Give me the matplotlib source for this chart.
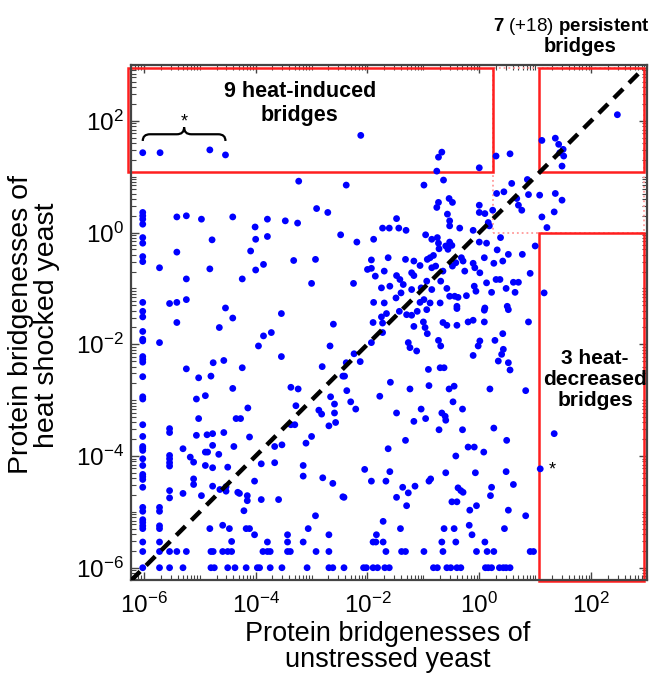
import numpy as np
import matplotlib
matplotlib.use('Agg')
import matplotlib.pyplot as plt
from matplotlib.patches import Rectangle, PathPatch
from matplotlib.path import Path
from matplotlib.ticker import FixedLocator, LogLocator, FuncFormatter, NullFormatter

plt.rcParams['font.family'] = ['Liberation Sans', 'DejaVu Sans']
plt.rcParams['mathtext.fontset'] = 'custom'
plt.rcParams['mathtext.rm'] = 'Liberation Sans'
plt.rcParams['mathtext.bf'] = 'Liberation Sans:bold'
plt.rcParams['mathtext.default'] = 'regular'

# log10(bridgeness) pairs: (unstressed, heat shocked)
heat_induced = [(-6.02, 1.43), (-5.71, 1.43), (-4.82, 1.48), (-4.54, 1.39), (-2.12, 1.74),
                (-0.67, 1.44), (-0.73, 1.35), (-0.76, 1.10), (0.00, 1.16)]
persistent = [(2.47, 2.11), (1.12, 1.65), (1.36, 1.69), (1.42, 1.58), (1.50, 1.49),
              (1.44, 1.43), (1.51, 1.37), (1.48, 1.19)]
heat_decreased = [(1.16, -1.08), (1.34, -3.60), (1.09, -4.23)]

upper_pts = [(0.30, 1.37), (0.55, 1.41), (1.48, 0.58),
    (-3.23, 0.92), (-6.02, 0.36), (-6.02, 0.30), (-6.02, 0.24), (-6.02, 0.15), (-6.02, -0.09),
    (-6.02, -0.19), (-6.02, -0.43), (-6.02, -0.52), (-5.41, 0.28), (-5.24, 0.30), (-4.97, 0.24),
    (-4.41, 0.28), (-4.01, 0.10), (-3.79, 0.24), (-3.47, 0.21), (-3.25, 0.17), (-2.91, 0.43),
    (-2.71, 0.36), (-2.48, -0.04), (-4.00, -0.12), (-3.79, -0.07), (-4.78, -0.13), (-5.41, -0.35),
    (-4.09, -0.33), (-5.72, -0.63), (-4.82, -0.65), (-4.00, -0.67), (-3.86, -0.57), (-3.32, -0.50),
    (-2.93, -0.48), (-5.24, -0.83), (-4.24, -0.83), (-3.00, -0.91), (-6.02, -1.25), (-5.54, -1.27),
    (-5.41, -1.25), (-5.24, -1.20), (-4.54, -1.35)]

center_pts = [(-2.38, 0.85), (-0.99, 0.85), (-0.64, 0.94), (0.31, 0.70), (0.44, 0.73), (0.58, 0.88),
    (0.86, 0.95), (0.88, 0.68), (1.08, 0.67), (1.36, 0.70), (0.67, 0.61), (0.70, 0.49), (0.76, 0.40),
    (1.34, 0.37), (1.12, 0.28), (1.21, 0.09), (-0.73, 0.54), (-0.76, 0.45), (-0.54, 0.61),
    (-0.48, 0.54), (-0.57, 0.33), (0.00, 0.49), (0.00, 0.36), (0.10, 0.34), (0.16, 0.18), (0.18, 0.12),
    (0.24, 0.40), (-0.53, 0.21), (-0.53, 0.12), (-0.35, 0.08), (-0.11, 0.04), (-1.48, 0.25),
    (-1.73, 0.08), (-1.61, 0.08), (-1.44, 0.08), (-1.31, 0.04), (-2.19, -0.17), (-1.89, -0.12),
    (-0.96, -0.04), (-0.85, -0.12), (-0.75, -0.09), (-0.73, -0.19), (-0.72, -0.29), (-0.60, -0.24),
    (-0.53, -0.17), (-0.49, -0.23), (-0.56, -0.30), (0.00, -0.17), (0.13, -0.19), (0.38, -0.09),
    (0.32, -0.31), (0.52, -0.39), (0.77, -0.39), (1.00, -0.24), (-1.63, -0.45), (-1.93, -0.49),
    (-1.32, -0.48), (-1.17, -0.51), (-1.06, -0.59), (-0.93, -0.48), (-0.88, -0.45), (-0.82, -0.41),
    (-0.85, -0.63), (-0.78, -0.60), (-2.00, -0.66), (-1.93, -0.64), (-1.70, -0.69), (-1.86, -0.78),
    (-1.48, -0.77), (-1.42, -0.84), (-1.21, -0.72), (-1.17, -0.77), (-0.65, -0.69), (-0.69, -0.87),
    (-0.48, -0.60), (-0.42, -0.54), (-0.32, -0.45), (-0.29, -0.51), (-0.26, -0.69), (-0.11, -0.55),
    (-0.08, -0.63), (0.01, -0.72), (0.09, -0.45), (0.26, -0.55), (0.42, -0.51), (0.13, -0.90),
    (0.30, -0.84), (0.37, -0.84), (0.61, -0.89), (0.70, -0.89), (0.91, -0.73), (-1.75, -0.99),
    (-1.60, -0.96), (-1.49, -1.17), (-1.40, -1.08), (-1.36, -0.93), (-1.21, -1.02), (-1.04, -0.99),
    (-0.94, -0.87), (-0.85, -1.02), (-0.58, -1.00), (-0.53, -1.14), (-0.44, -1.14), (-0.38, -1.16),
    (-0.23, -1.13), (-0.09, -0.96), (-0.06, -1.05), (0.22, -1.07), (0.48, -1.00), (0.64, -1.07),
    (-2.25, -0.91), (-1.89, -1.25), (-1.70, -1.26), (-1.06, -1.25), (-0.99, -1.20), (-0.88, -1.26),
    (-0.70, -1.26), (-0.40, -1.32), (0.10, -1.35), (0.50, -1.32)]

middle_pts = [(-6.02, -1.41), (-6.02, -1.51), (-6.02, -1.77), (-6.02, -1.91), (-6.02, -1.94),
    (-6.02, -2.22), (-6.02, -2.27), (-6.02, -2.32), (-6.02, -2.58), (-6.02, -2.94), (-6.02, -2.98),
    (-6.02, -3.44), (-6.02, -3.65), (-5.72, -1.97), (-5.41, -1.61), (-4.41, -1.53), (-4.65, -1.70),
    (-3.54, -1.45), (-2.61, -1.64), (-3.86, -1.85), (-3.72, -1.79), (-3.95, -2.03), (-2.67, -2.03),
    (-3.54, -2.22), (-4.57, -2.29), (-4.76, -2.33), (-5.24, -2.44), (-4.24, -2.42), (-5.02, -2.60),
    (-4.80, -2.57), (-2.81, -2.40), (-2.44, -2.57), (-4.41, -2.79), (-3.37, -2.77), (-3.24, -2.80),
    (-5.06, -2.98), (-4.90, -2.92), (-2.66, -2.94), (-2.59, -3.07), (-3.28, -3.10), (-4.14, -3.14),
    (-2.87, -3.18), (-2.82, -3.25), (-2.59, -3.23), (-4.35, -3.33), (-4.27, -3.33), (-5.02, -3.33),
    (-3.37, -3.44), (-3.30, -3.44), (-2.69, -3.46), (-2.57, -3.40), (-5.54, -3.51), (-5.54, -3.58),
    (-5.06, -3.63), (-4.87, -3.62), (-4.77, -3.60), (-4.57, -3.58), (-4.11, -3.66), (-3.00, -3.65),
    (-1.90, -1.61), (-1.73, -1.62), (-1.75, -1.51), (-1.66, -1.45), (-1.73, -1.79), (-1.93, -1.97),
    (-1.43, -1.41), (-1.30, -1.47), (-1.21, -1.48), (-1.11, -1.41), (-1.17, -1.68), (-1.00, -1.60),
    (-0.97, -1.70), (-0.93, -1.81), (-0.94, -1.38), (-0.65, -1.61), (-0.58, -1.66), (-0.40, -1.66),
    (-0.40, -1.36), (-0.20, -1.60), (-0.11, -1.57), (0.09, -1.39), (0.09, -1.60), (0.52, -1.38),
    (0.88, -1.60), (0.42, -1.81), (0.28, -1.93), (0.01, -1.94), (-0.02, -2.03), (-0.73, -1.93),
    (-0.69, -2.03), (-1.27, -1.97), (-1.24, -2.06), (-1.12, -2.12), (0.43, -2.09), (0.40, -2.18),
    (0.34, -2.30), (-0.11, -2.20), (0.52, -2.33), (0.55, -2.46), (-2.24, -2.17), (-2.13, -2.31),
    (-2.38, -2.33), (-0.91, -2.45), (-0.70, -2.42), (-0.63, -2.42), (-2.41, -2.57), (-1.59, -2.68),
    (-1.24, -2.80), (-0.90, -2.74), (-0.54, -2.80), (-0.45, -2.75), (0.19, -2.80), (0.83, -2.83),
    (-2.37, -2.83), (-1.78, -2.93), (-2.30, -3.03), (-2.21, -3.16), (-1.04, -3.16), (-0.47, -3.03),
    (-0.30, -3.16), (-1.48, -3.23), (-0.67, -3.23), (-0.61, -3.29), (-0.60, -3.36), (-0.96, -3.33),
    (-1.17, -3.38), (-0.72, -3.53), (-0.30, -3.53), (0.26, -3.50)]

lower_left_pts = [(-6.02, -3.83), (-6.02, -3.86), (-6.02, -3.90), (-6.02, -4.05), (-6.02, -4.17),
    (-6.02, -4.33), (-6.02, -4.37), (-6.02, -4.42), (-6.02, -4.56), (-6.02, -4.92), (-6.02, -4.99),
    (-6.02, -5.14), (-6.02, -5.19), (-6.02, -5.25), (-6.02, -5.30), (-6.02, -5.54), (-6.02, -5.71),
    (-6.02, -6.00), (-5.72, -4.92), (-5.72, -4.99), (-5.72, -5.25), (-5.72, -5.30), (-5.72, -5.54),
    (-5.72, -5.71), (-5.72, -6.00), (-5.54, -3.99), (-5.54, -4.05), (-5.54, -4.12), (-5.54, -4.18),
    (-5.54, -4.62), (-5.54, -4.75), (-5.54, -5.71), (-5.54, -6.00), (-5.41, -5.71), (-5.30, -3.87),
    (-5.30, -4.67), (-5.30, -6.00), (-5.24, -5.71), (-5.17, -4.02), (-5.11, -4.11), (-5.11, -4.41),
    (-5.11, -4.51), (-4.97, -4.71), (-4.90, -3.93), (-4.90, -4.17), (-4.86, -3.93), (-4.77, -3.81),
    (-4.77, -4.21), (-4.77, -4.54), (-4.82, -5.30), (-4.80, -5.71), (-4.76, -5.71), (-4.80, -6.00),
    (-4.74, -6.00), (-4.66, -3.97), (-4.64, -4.60), (-4.59, -5.24), (-4.59, -5.71), (-4.53, -4.63),
    (-4.53, -4.55), (-4.50, -4.20), (-4.50, -5.71), (-4.50, -6.00), (-4.47, -5.30), (-4.43, -5.53),
    (-4.43, -5.71), (-4.39, -3.83), (-4.37, -6.00), (-4.32, -4.65), (-4.29, -4.67), (-4.21, -4.98),
    (-4.17, -5.30), (-4.17, -6.00), (-4.15, -4.71), (-4.15, -4.80), (-4.11, -5.30), (-4.02, -4.45),
    (-4.02, -5.41), (-3.97, -6.00), (-3.93, -6.00), (-3.90, -4.14), (-3.90, -4.78), (-3.87, -5.71),
    (-3.79, -5.54), (-3.79, -5.71), (-3.74, -5.71), (-3.74, -6.00), (-3.66, -4.12), (-3.66, -3.83),
    (-3.59, -4.78), (-3.53, -3.80), (-3.53, -6.00), (-3.43, -5.41), (-3.43, -5.54), (-3.43, -5.71),
    (-3.38, -5.71), (-3.15, -4.17), (-3.15, -4.36), (-3.15, -5.54), (-3.08, -6.00), (-3.10, -3.77),
    (-3.06, -5.30), (-2.93, -5.07), (-2.92, -5.71), (-2.80, -4.39), (-2.69, -5.41), (-2.69, -5.71),
    (-2.69, -6.00), (-2.62, -4.49), (-2.62, -6.00), (-2.44, -4.73)]

lower_right_pts = [(-1.32, -3.72), (-1.63, -3.87), (-0.20, -3.84), (-0.09, -3.84), (0.08, -3.93),
    (0.49, -3.72), (-0.42, -4.00), (-2.05, -4.24), (-1.60, -4.28), (-1.93, -4.45), (-1.67, -4.45),
    (-0.60, -4.30), (-0.07, -4.30), (0.48, -4.28), (-0.87, -4.41), (-0.90, -4.45), (-1.37, -4.56),
    (-1.27, -4.66), (-1.15, -4.54), (-1.48, -4.74), (-1.30, -4.89), (-0.38, -4.57), (-0.33, -4.62),
    (-0.29, -4.65), (0.22, -4.56), (0.20, -4.71), (0.61, -4.51), (-2.42, -4.74), (-0.49, -4.82),
    (-0.40, -4.82), (-0.17, -4.97), (-0.05, -4.89), (0.52, -4.97), (0.83, -5.07), (-1.72, -5.17),
    (-1.41, -5.30), (-0.63, -5.30), (-0.45, -5.30), (-0.18, -5.24), (-0.13, -5.41), (0.45, -5.30),
    (-1.84, -5.41), (-1.90, -5.54), (-1.85, -5.54), (-1.72, -5.54), (-0.67, -5.54), (-0.42, -5.54),
    (0.10, -5.54), (-1.67, -5.71), (-1.39, -5.71), (-1.32, -5.71), (-0.99, -5.71), (-0.65, -5.71),
    (-0.05, -5.71), (0.14, -5.71), (0.26, -5.71), (0.91, -5.71), (0.97, -5.71),
    (-2.42, -6.00), (-2.07, -6.00), (-2.02, -6.00), (-1.90, -6.00), (-1.82, -6.00), (-1.69, -6.00),
    (-1.61, -6.00), (-0.82, -6.00), (-0.75, -6.00), (-0.58, -6.00), (-0.51, -6.00), (-0.40, -6.00),
    (-0.33, -6.00), (0.11, -6.00), (0.16, -6.00), (0.22, -6.00), (0.36, -6.00), (0.43, -6.00),
    (0.48, -6.00), (0.55, -6.00)]

# thresholds of the boxes (log10)
x_induced_max = 0.24
x_high = 1.06
y_high = 1.085
y_decreased_max = 0.0
log_lo, log_hi = -6.23, 3.0

tick_exps = [-6, -4, -2, 0, 2]

all_pts = np.array(heat_induced + persistent + heat_decreased + upper_pts + center_pts
                   + middle_pts + lower_left_pts + lower_right_pts)
xs = 10 ** all_pts[:, 0]
ys = 10 ** all_pts[:, 1]

fig = plt.figure(figsize=(6.71, 6.82), dpi=100)
ax = fig.add_axes([131 / 671, 1 - 580 / 682, 516 / 671, 515 / 682])
ax.set_xscale('log')
ax.set_yscale('log')
ax.set_xlim(10 ** log_lo, 10 ** log_hi)
ax.set_ylim(10 ** (log_lo + 0.01), 10 ** log_hi)

ax.scatter(xs, ys, s=24, c='#0000ff', edgecolors='none', zorder=3)

# diagonal y = x
ax.plot([10 ** log_lo, 10 ** 2.88], [10 ** log_lo, 10 ** 2.88], color='black', lw=3.2,
        dashes=(2.9, 1.9), zorder=4, solid_capstyle='butt')

red = '#ff1f1f'
# dotted region between boxes
ax.add_patch(Rectangle((10 ** x_induced_max, 10 ** y_decreased_max),
                       10 ** 2.95 - 10 ** x_induced_max, 10 ** 2.955 - 10 ** y_decreased_max,
                       fill=False, ec='#ff9a9a', lw=1.3, ls=':', zorder=2, clip_on=False))
boxes = [((-6.29, y_high), (x_induced_max, 2.955)),
         ((x_high, y_high), (2.95, 2.955)),
         ((x_high, -6.23), (2.95, y_decreased_max))]
for (x0, y0), (x1, y1) in boxes:
    ax.add_patch(Rectangle((10 ** x0, 10 ** y0), 10 ** x1 - 10 ** x0, 10 ** y1 - 10 ** y0,
                           fill=False, ec=red, lw=1.8, zorder=2.5, clip_on=False))

# curly brace over the starred heat-induced points
bx0, bx1 = -6.02, -4.54
bm = (bx0 + bx1) / 2
ye, ymid, ytip = 1.64, 1.76, 1.885
d = 0.13
verts = [(bx0, ye), (bx0, ymid), (bx0 + d, ymid), (bm - d, ymid), (bm, ymid), (bm, ytip),
         (bm, ymid), (bm + d, ymid), (bx1 - d, ymid), (bx1, ymid), (bx1, ye)]
codes = [Path.MOVETO, Path.CURVE3, Path.CURVE3, Path.LINETO, Path.CURVE3, Path.CURVE3,
         Path.CURVE3, Path.CURVE3, Path.LINETO, Path.CURVE3, Path.CURVE3]
verts = [(10 ** a, 10 ** b) for a, b in verts]
ax.add_patch(PathPatch(Path(verts, codes), fill=False, lw=1.6, ec='black', zorder=5))
ax.text(10 ** bm, 10 ** 1.90, '*', ha='center', va='baseline', fontsize=13)
ax.text(10 ** 1.30, 10 ** -4.33, '*', ha='center', va='baseline', fontsize=13)

ax.text(10 ** -3.21, 10 ** 2.31, '9 heat-induced\nbridges', ha='center', va='center',
        fontsize=15.5, fontweight='bold', linespacing=1.2, zorder=6)
ax.text(10 ** 2.07, 10 ** -2.63, '3 heat-\ndecreased\nbridges', ha='center', va='center',
        fontsize=15, fontweight='bold', linespacing=1.12, zorder=6)
fig.text(571 / 671, 1 - 31 / 682, r'$\mathbf{7}$ (+18) $\mathbf{persistent}$', ha='center',
         va='baseline', fontsize=13.5)
fig.text(580 / 671, 1 - 52 / 682, 'bridges', ha='center', va='baseline', fontsize=14.5,
         fontweight='bold')

# ticks
for axis in (ax.xaxis, ax.yaxis):
    axis.set_major_locator(FixedLocator([10.0 ** e for e in tick_exps]))
    axis.set_major_formatter(FuncFormatter(lambda v, p: r'$10^{%d}$' % round(np.log10(v))))
    axis.set_minor_locator(LogLocator(base=10, subs=np.arange(1, 10), numticks=60))
    axis.set_minor_formatter(NullFormatter())
ax.tick_params(which='both', direction='in', top=True, right=True, color='#444444')
ax.tick_params(which='major', length=6, width=1.0, labelsize=17.5)
ax.tick_params(axis='x', which='major', pad=9)
ax.tick_params(axis='y', which='major', pad=5)
ax.tick_params(which='minor', length=3.5, width=0.8)
for sp in ax.spines.values():
    sp.set_color('#444444')
    sp.set_linewidth(1.6)

fig.text(388 / 671, 1 - 647 / 682, 'Protein bridgenesses of\nunstressed yeast', ha='center',
         va='center', fontsize=19.5, linespacing=1.0)
fig.text(34 / 671, 1 - 325 / 682, 'Protein bridgenesses of\nheat shocked yeast', ha='center',
         va='center', fontsize=20.5, rotation=90, linespacing=1.0)

fig.savefig('out.png', dpi=100)
